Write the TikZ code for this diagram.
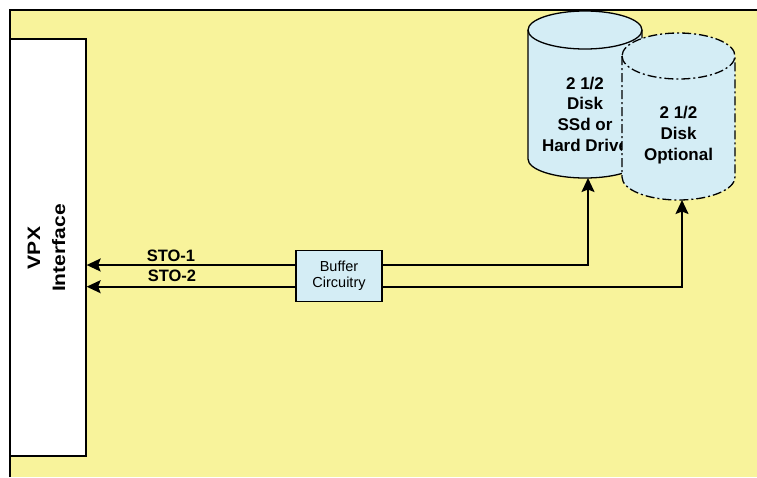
\documentclass[tikz,border=0pt]{standalone}
\usepackage{fontspec}
\setmainfont{Liberation Sans}
\newfontfamily\vpxfont[FakeStretch=1.17]{Liberation Sans}
\usetikzlibrary{arrows.meta}
\definecolor{bgyellow}{RGB}{248,243,155}
\definecolor{diskblue}{RGB}{212,237,245}
\tikzset{
  arr/.style={line width=1.8pt, -{Stealth[length=14pt,width=13pt,inset=2.5pt]}},
  disktext/.style={align=center, font=\bfseries\fontsize{17}{20.7}\selectfont, inner sep=0pt},
  stolabel/.style={font=\bfseries\fontsize{16.5}{19}\selectfont, inner sep=0pt, anchor=base},
  bufbox/.style={draw, line width=1.2pt, fill=diskblue, minimum width=86pt, minimum height=51.7pt, align=center, font=\fontsize{14.5}{16.5}\selectfont, inner sep=0pt},
  diskone/.style={draw, line width=1.3pt, fill=diskblue},
  disktwo/.style={draw, line width=1.3pt, fill=diskblue, dash pattern=on 9pt off 3pt on 2pt off 3pt},
}
\begin{document}
\begin{tikzpicture}[x=1pt,y=-1pt]
\useasboundingbox (0,0) rectangle (757,477);
% background frame
\fill[bgyellow] (10,10) rectangle (757,477);
\draw[line width=1.5pt] (10,477) -- (10,10) -- (757,10);
% VPX box
\node[draw, line width=1.3pt, fill=white, minimum width=76pt, minimum height=417pt, inner sep=0pt] (vpx) at (48,247.5) {};
\node[rotate=90, align=center, font=\vpxfont\bfseries\fontsize{18}{25}\selectfont, inner sep=0pt] (vpxt) at (46.5,248) {VPX\\Interface};
% disk 1
\path[diskone] (528,30) -- (528,159) arc[start angle=180,end angle=0,x radius=57,y radius=19]
  -- (642,30) arc[start angle=0,end angle=-180,x radius=57,y radius=19] -- cycle;
\draw[line width=1.3pt] (528,30) arc[start angle=180,end angle=0,x radius=57,y radius=19];
\node[disktext] (d1t) at (585,114) {2 1/2\\Disk\\SSd or\\Hard Drive};
\coordinate (d1b) at (588,178);
% disk 2
\path[disktwo] (622,56) -- (622,177) arc[start angle=180,end angle=0,x radius=56.5,y radius=23]
  -- (735,56) arc[start angle=0,end angle=-180,x radius=56.5,y radius=23] -- cycle;
\draw[line width=1.3pt, dash pattern=on 9pt off 3pt on 2pt off 3pt] (622,56) arc[start angle=180,end angle=0,x radius=56.5,y radius=23];
\node[disktext] (d2t) at (678.5,135) {2 1/2\\Disk\\Optional};
\coordinate (d2b) at (682,200);
% buffer
\node[bufbox] (buf) at (339,276) {Buffer\\Circuitry};
% connectors
\draw[arr] ([yshift=11pt]buf.west) -- ([yshift=11pt]buf.west -| vpx.east);
\draw[arr] ([yshift=-10.7pt]buf.west) -- ([yshift=-10.7pt]buf.west -| vpx.east);
\draw[arr] ([yshift=11pt]buf.east) -| (d1b);
\draw[arr] ([yshift=-10.7pt]buf.east) -| (d2b);
% labels
\node[stolabel] (sto1) at (171,261.7) {STO-1};
\node[stolabel] (sto2) at (172,281.7) {STO-2};
\end{tikzpicture}
\end{document}
